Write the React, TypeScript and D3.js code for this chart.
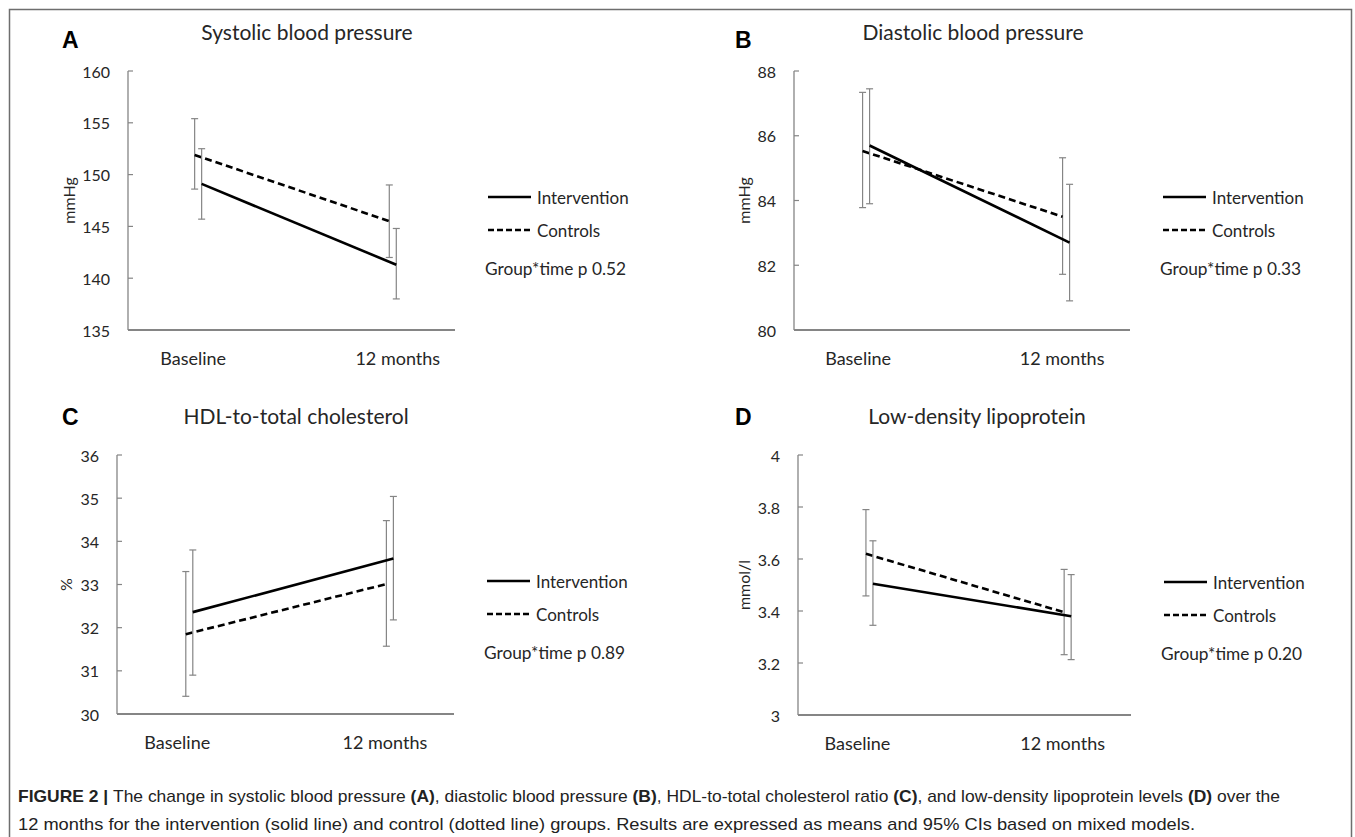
import React from "react"
import { scaleLinear, scalePoint, line } from "d3"

// categories on the x axis
const categories = ["Baseline", "12 months"]

// A: systolic blood pressure (mmHg)
const sbpInterventionMean = [149.1, 141.3]
const sbpInterventionLow = [145.7, 138.0]
const sbpInterventionHigh = [152.5, 144.8]
const sbpControlsMean = [151.9, 145.5]
const sbpControlsLow = [148.6, 142.0]
const sbpControlsHigh = [155.4, 149.0]
const sbpTicks = [135, 140, 145, 150, 155, 160]

// B: diastolic blood pressure (mmHg)
const dbpInterventionMean = [85.7, 82.7]
const dbpInterventionLow = [83.9, 80.9]
const dbpInterventionHigh = [87.45, 84.5]
const dbpControlsMean = [85.53, 83.5]
const dbpControlsLow = [83.78, 81.72]
const dbpControlsHigh = [87.34, 85.32]
const dbpTicks = [80, 82, 84, 86, 88]

// C: HDL-to-total cholesterol (%)
const hdlInterventionMean = [32.36, 33.6]
const hdlInterventionLow = [30.9, 32.18]
const hdlInterventionHigh = [33.8, 35.04]
const hdlControlsMean = [31.85, 33.01]
const hdlControlsLow = [30.41, 31.57]
const hdlControlsHigh = [33.3, 34.48]
const hdlTicks = [30, 31, 32, 33, 34, 35, 36]

// D: low-density lipoprotein (mmol/l)
const ldlInterventionMean = [3.505, 3.38]
const ldlInterventionLow = [3.345, 3.213]
const ldlInterventionHigh = [3.67, 3.54]
const ldlControlsMean = [3.62, 3.395]
const ldlControlsLow = [3.458, 3.232]
const ldlControlsHigh = [3.79, 3.56]
const ldlTicks = [3, 3.2, 3.4, 3.6, 3.8, 4]

const pValues = ["0.52", "0.33", "0.89", "0.20"]

const chartFont = "Lato, 'Open Sans', sans-serif"
const axisColor = "#858585"
const textColor = "#262626"

const panels = [
    {
        letter: "A", title: "Systolic blood pressure", unit: "mmHg", ticks: sbpTicks, p: pValues[0],
        inter: [sbpInterventionMean, sbpInterventionLow, sbpInterventionHigh],
        ctrl: [sbpControlsMean, sbpControlsLow, sbpControlsHigh],
        left: 128, right: 455, top: 71, bottom: 330, letterX: 62, letterY: 48, unitX: 68, labelShift: [-5, 5],
    },
    {
        letter: "B", title: "Diastolic blood pressure", unit: "mmHg", ticks: dbpTicks, p: pValues[1],
        inter: [dbpInterventionMean, dbpInterventionLow, dbpInterventionHigh],
        ctrl: [dbpControlsMean, dbpControlsLow, dbpControlsHigh],
        left: 794, right: 1130, top: 71, bottom: 330, letterX: 735, letterY: 48, unitX: 743, labelShift: [-8, -4],
    },
    {
        letter: "C", title: "HDL-to-total cholesterol", unit: "%", ticks: hdlTicks, p: pValues[2],
        inter: [hdlInterventionMean, hdlInterventionLow, hdlInterventionHigh],
        ctrl: [hdlControlsMean, hdlControlsLow, hdlControlsHigh],
        left: 117, right: 454, top: 455, bottom: 714, letterX: 62, letterY: 425, unitX: 65, labelShift: [-12, -5],
    },
    {
        letter: "D", title: "Low-density lipoprotein", unit: "mmol/l", ticks: ldlTicks, p: pValues[3],
        inter: [ldlInterventionMean, ldlInterventionLow, ldlInterventionHigh],
        ctrl: [ldlControlsMean, ldlControlsLow, ldlControlsHigh],
        left: 798, right: 1131, top: 455, bottom: 715, letterX: 735, letterY: 425, unitX: 743, labelShift: [-12, -5],
    },
]

function Series({ values, x, y, offset, dashed }) {
    const [mean, low, high] = values
    const pts = categories.map((c, i) => [x(c) + offset, y(mean[i])])
    const path = line()(pts)
    return (
        <g>
            {categories.map((c, i) => {
                const cx = x(c) + offset
                return (
                    <g key={c} stroke={axisColor} strokeWidth={1.2}>
                        <line x1={cx} x2={cx} y1={y(low[i])} y2={y(high[i])} />
                        <line x1={cx - 3.5} x2={cx + 3.5} y1={y(low[i])} y2={y(low[i])} />
                        <line x1={cx - 3.5} x2={cx + 3.5} y1={y(high[i])} y2={y(high[i])} />
                    </g>
                )
            })}
            <path d={path} fill="none" stroke="#000" strokeWidth={2.6}
                strokeDasharray={dashed ? "7,4" : null} />
        </g>
    )
}

function Panel({ cfg }) {
    const y = scaleLinear()
        .domain([cfg.ticks[0], cfg.ticks[cfg.ticks.length - 1]])
        .range([cfg.bottom, cfg.top])
    const x = scalePoint()
        .domain(categories)
        .range([cfg.left, cfg.right])
        .padding(0.34)
        .align(0.53)
    const legX = cfg.right + 33
    const mid = (cfg.top + cfg.bottom) / 2

    return (
        <g fontFamily={chartFont} fill={textColor}>
            <text x={cfg.letterX} y={cfg.letterY} fontFamily="'Liberation Sans', Arial, sans-serif"
                fontWeight="bold" fontSize={23} fill="#000">{cfg.letter}</text>
            <text x={cfg.left + 179} y={cfg.top - 31} textAnchor="middle" fontSize={21}>{cfg.title}</text>
            <text transform={"translate(" + cfg.unitX + "," + mid + ") rotate(-90)"}
                textAnchor="middle" dominantBaseline="central" fontSize={16}>{cfg.unit}</text>

            {/* y axis */}
            <line x1={cfg.left} x2={cfg.left} y1={cfg.top} y2={cfg.bottom} stroke={axisColor} strokeWidth={1.3} />
            {cfg.ticks.map(t => (
                <g key={t}>
                    <line x1={cfg.left} x2={cfg.left + 5} y1={y(t)} y2={y(t)} stroke={axisColor} strokeWidth={1.2} />
                    <text x={cfg.left - 18} y={y(t)} textAnchor="end" dominantBaseline="central" fontSize={16}>{t}</text>
                </g>
            ))}

            {/* x axis */}
            <line x1={cfg.left} x2={cfg.right} y1={cfg.bottom} y2={cfg.bottom} stroke={axisColor} strokeWidth={2} />
            {categories.map((c, i) => (
                <text key={c} x={x(c) + cfg.labelShift[i]} y={cfg.bottom + 35} textAnchor="middle" fontSize={18}>{c}</text>
            ))}

            <Series values={cfg.ctrl} x={x} y={y} offset={-3.5} dashed />
            <Series values={cfg.inter} x={x} y={y} offset={3.5} />

            {/* legend */}
            <line x1={legX} x2={legX + 43} y1={cfg.bottom - 133} y2={cfg.bottom - 133} stroke="#000" strokeWidth={2.6} />
            <text x={legX + 49} y={cfg.bottom - 133} dominantBaseline="central" fontSize={17}>Intervention</text>
            <line x1={legX} x2={legX + 43} y1={cfg.bottom - 100} y2={cfg.bottom - 100} stroke="#000" strokeWidth={2.6}
                strokeDasharray="6,3" />
            <text x={legX + 49} y={cfg.bottom - 100} dominantBaseline="central" fontSize={17}>Controls</text>
            <text x={legX - 3} y={cfg.bottom - 55} fontSize={17.3}>{"Group*time p " + cfg.p}</text>
        </g>
    )
}

export default function App() {
    const capFont = "'Liberation Sans', Arial, sans-serif"
    return (
        <svg width={1355} height={837} style={{ position: "absolute", left: 0, top: 0, background: "#fff" }}>
            <rect width={1355} height={837} fill="#fff" />
            <path d="M9.5,840 V9.5 H1351.5 V840" fill="none" stroke="#6e6e6e" strokeWidth={1.5} />
            {panels.map(p => <Panel key={p.letter} cfg={p} />)}
            <text x={18} y={802} fontFamily={capFont} fontSize={17} fill="#222"
                textLength={1262} lengthAdjust="spacingAndGlyphs">
                <tspan fontWeight="bold">FIGURE 2 | </tspan>
                <tspan>The change in systolic blood pressure </tspan>
                <tspan fontWeight="bold">(A)</tspan>
                <tspan>, diastolic blood pressure </tspan>
                <tspan fontWeight="bold">(B)</tspan>
                <tspan>, HDL-to-total cholesterol ratio </tspan>
                <tspan fontWeight="bold">(C)</tspan>
                <tspan>, and low-density lipoprotein levels </tspan>
                <tspan fontWeight="bold">(D)</tspan>
                <tspan> over the</tspan>
            </text>
            <text x={18} y={830} fontFamily={capFont} fontSize={17} fill="#222"
                textLength={1177} lengthAdjust="spacingAndGlyphs">
                12 months for the intervention (solid line) and control (dotted line) groups. Results are expressed as means and 95% CIs based on mixed models.
            </text>
        </svg>
    )
}
